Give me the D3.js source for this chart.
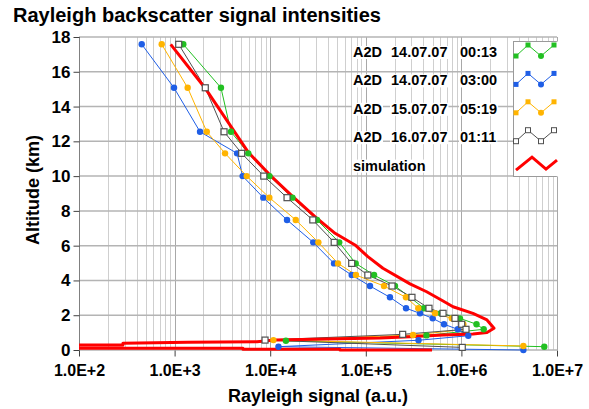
<!DOCTYPE html>
<html>
<head>
<meta charset="utf-8">
<script src="https://cdn.jsdelivr.net/npm/d3@7"></script>
<style>
  body { margin: 0; background: #fff; }
  svg { font-family: "Liberation Sans", Arial, sans-serif; font-weight: bold; }
</style>
</head>
<body>
<svg width="589" height="409"></svg>
<script>
// Altitude levels (km) shared by the A2D profiles
const levels = [17.58, 15.08, 12.55, 11.31, 10.0, 8.76, 7.48, 6.19, 4.98, 4.31, 3.68, 3.03, 2.40, 2.11, 1.82, 1.48, 1.19];

// A2D 14.07.07 00:13 (green)
const greenVals = [1233, 3055, 3890, 5900, 9840, 17100, 30900, 52700, 78400, 122000, 202000, 290000, 406000, 610000, 966000, 1439000, 1711000];
const greenLowAlt = [0.84, 0.53, 0.19];
const greenLowVals = [431000, 14600, 7360000];

// A2D 14.07.07 03:00 (blue)
const blueVals = [453, 986, 1845, 4500, 5150, 8470, 15000, 28200, 46500, 71200, 110600, 179000, 263500, 369000, 501000, 658000, 917000];
const blueLowAlt = [0.82, 0.56, 0.19, 0.0];
const blueLowVals = [1180000, 356000, 12200, 4450000];

// A2D 15.07.07 05:19 (orange)
const orangeVals = [733, 1370, 2170, 3370, 5680, 9800, 18500, 31900, 51200, 78900, 155000, 263000, 354000, 530000, 793000, 1048000, 1117000];
const orangeLowAlt = [0.86, 0.57, 0.23];
const orangeLowVals = [312000, 10800, 4450000];

// A2D 16.07.07 01:11 (black)
const blackVals = [1104, 2094, 3290, 5030, 8570, 15000, 27900, 46700, 71200, 105000, 188000, 304000, 458000, 643000, 857000, 1007000, 1117000];
const blackLowAlt = [0.90, 0.57, 0.15];
const blackLowVals = [243000, 8830, 1021000];

// simulation (red)
const simAlt = [17.58, 15.07, 11.39, 10.06, 8.86, 7.67, 6.71, 6.04, 5.37, 4.70, 3.80, 3.35, 2.82, 2.49, 2.11, 1.73, 1.25, 1.01, 0.92, 0.86, 0.76, 0.69, 0.58, 0.48, 0.44, 0.39, 0.29, 0.29, 0.10, 0.10, 0.10, 0.04, 0.04, 0.0, 0.0];
const simVals = [910, 2080, 5860, 9950, 16900, 29400, 47700, 77100, 105000, 151000, 290000, 433000, 643000, 817000, 1321000, 1852000, 2193000, 1852000, 1321000, 643000, 290000, 141000, 11200, 7280, 1380, 288, 288, 60, 60, 553, 5190, 5190, 53700, 53700, 493000];

const xTicks = [1e2, 1e3, 1e4, 1e5, 1e6, 1e7];
const yTicks = [0, 2, 4, 6, 8, 10, 12, 14, 16, 18];

const legendRows = [
  {parts: ['A2D', '14.07.07', '00:13'], color: '#22c022', mark: 'dot'},
  {parts: ['A2D', '14.07.07', '03:00'], color: '#1f5ee6', mark: 'dot'},
  {parts: ['A2D', '15.07.07', '05:19'], color: '#ffb400', mark: 'dot'},
  {parts: ['A2D', '16.07.07', '01:11'], color: '#505050', mark: 'square'},
  {parts: ['simulation'], color: '#ff0000', mark: 'none'}
];

const zip = (vals, alts) => vals.map((v, i) => ({v: v, a: alts[i]}));
const series = [
  {data: zip([...greenVals, ...greenLowVals], [...levels, ...greenLowAlt]), color: '#22c022', mark: 'dot', width: 1},
  {data: zip([...blueVals, ...blueLowVals], [...levels, ...blueLowAlt]), color: '#1f5ee6', mark: 'dot', width: 1},
  {data: zip([...orangeVals, ...orangeLowVals], [...levels, ...orangeLowAlt]), color: '#ffb400', mark: 'dot', width: 1},
  {data: zip([...blackVals, ...blackLowVals], [...levels, ...blackLowAlt]), color: '#505050', mark: 'square', width: 1},
  {data: zip(simVals, simAlt), color: '#ff0000', mark: 'none', width: 3}
];

const svg = d3.select('svg');
const x = d3.scaleLog().domain([1e2, 1e7]).range([79, 557]);
const y = d3.scaleLinear().domain([0, 18]).range([350, 37]);

svg.append('defs').append('clipPath').attr('id', 'plot')
  .append('rect').attr('x', 79).attr('y', 30).attr('width', 478).attr('height', 325);

// grid
const minor = [];
for (let e = 2; e < 7; e++) for (let m = 2; m < 10; m++) minor.push(m * Math.pow(10, e));
const grid = svg.append('g');
grid.selectAll('.minor').data(minor).enter().append('line')
  .attr('x1', d => Math.round(x(d)) + 0.5).attr('x2', d => Math.round(x(d)) + 0.5)
  .attr('y1', y(18)).attr('y2', y(0))
  .attr('stroke', '#cfcfcf');
grid.selectAll('.major').data(xTicks).enter().append('line')
  .attr('x1', d => Math.round(x(d)) + 0.5).attr('x2', d => Math.round(x(d)) + 0.5)
  .attr('y1', y(18)).attr('y2', y(0))
  .attr('stroke', '#a8a8a8');
grid.selectAll('.hz').data(yTicks).enter().append('line')
  .attr('x1', x(1e2)).attr('x2', x(1e7))
  .attr('y1', d => y(d)).attr('y2', d => y(d))
  .attr('stroke', '#b4b4b4').attr('stroke-width', 1.5);

// axes
const yAxis = svg.append('g').attr('transform', 'translate(79.5,0)')
  .call(d3.axisLeft(y).tickValues(yTicks).tickSize(6).tickPadding(3).tickFormat(d3.format('d')));
yAxis.select('.domain').attr('stroke', '#808080').attr('d', `M0,${y(18)}V${y(0)}`);
yAxis.selectAll('.tick line').attr('stroke', '#404040');
yAxis.selectAll('text').attr('font-size', 17).attr('font-weight', 'bold').attr('fill', '#000')
  .attr('font-family', '"Liberation Sans", Arial, sans-serif');

const xAxis = svg.append('g').attr('transform', 'translate(0,350.5)')
  .call(d3.axisBottom(x).tickValues(xTicks).tickSize(6).tickPadding(8)
    .tickFormat(d => d3.format('.1e')(d).toUpperCase()));
xAxis.select('.domain').remove();
xAxis.selectAll('.tick line').attr('stroke', '#404040');
xAxis.selectAll('text').attr('font-size', 16).attr('font-weight', 'bold').attr('fill', '#000')
  .attr('font-family', '"Liberation Sans", Arial, sans-serif');

// titles
svg.append('text').attr('x', 13).attr('y', 22).attr('font-size', 20).text('Rayleigh backscatter signal intensities');
svg.append('text').attr('x', 318).attr('y', 402).attr('text-anchor', 'middle').attr('font-size', 18)
  .text('Rayleigh signal (a.u.)');
svg.append('text').attr('transform', 'translate(39,190) rotate(-90)').attr('text-anchor', 'middle')
  .attr('font-size', 18).text('Altitude (km)');

// data
const line = d3.line().x(d => x(d.v)).y(d => y(d.a));
const plot = svg.append('g').attr('clip-path', 'url(#plot)');

series.forEach(s => {
  plot.append('path').datum(s.data)
    .attr('d', line).attr('fill', 'none')
    .attr('stroke', s.color).attr('stroke-width', s.width).attr('stroke-linejoin', 'round');
});
series.filter(s => s.mark === 'dot').forEach(s => {
  plot.selectAll(null).data(s.data).enter().append('circle')
    .attr('cx', d => x(d.v)).attr('cy', d => y(d.a)).attr('r', 3.2).attr('fill', s.color);
});
series.filter(s => s.mark === 'square').forEach(s => {
  plot.selectAll(null).data(s.data).enter().append('rect')
    .attr('x', d => x(d.v) - 3).attr('y', d => y(d.a) - 3).attr('width', 6).attr('height', 6)
    .attr('fill', '#fff').attr('stroke', s.color).attr('stroke-width', 1.2);
});

// legend
const legend = svg.append('g');
const colX = [353, 391, 460];
legendRows.forEach((r, i) => {
  const base = 57 + i * 28.4;
  r.parts.forEach((p, j) => {
    const t = legend.append('text').attr('x', colX[j]).attr('y', base).attr('font-size', 14.5).text(p);
    const bb = t.node().getBBox();
    legend.insert('rect', 'text').attr('x', bb.x - 1).attr('y', bb.y + 2)
      .attr('width', bb.width + 2).attr('height', bb.height - 3).attr('fill', '#fff');
  });
});
legend.append('rect').attr('x', 513.5).attr('y', 41.5).attr('width', 44).attr('height', 135)
  .attr('fill', '#fff').attr('stroke', '#9a9a9a');
legend.append('line').attr('x1', 557.5).attr('x2', 557.5).attr('y1', 41.5).attr('y2', 176.5)
  .attr('stroke', '#fff').attr('stroke-width', 1.5);

legendRows.forEach((r, i) => {
  const cy = 51 + i * 28.4;
  const pts = [[516, cy + 5], [528, cy - 6], [541, cy + 5], [554, cy - 6]];
  if (r.mark === 'none') {
    const rp = [[516, cy + 5.5], [532, cy - 7.5], [546, cy + 4.5], [557, cy - 4.5]];
    legend.append('path').attr('d', d3.line()(rp)).attr('fill', 'none')
      .attr('stroke', r.color).attr('stroke-width', 3);
    return;
  }
  legend.append('path').attr('d', d3.line()(pts)).attr('fill', 'none').attr('stroke', r.color);
  pts.forEach((p, k) => {
    if (r.mark === 'square') {
      legend.append('rect').attr('x', p[0] - 2.5).attr('y', p[1] - 2.5).attr('width', 5).attr('height', 5)
        .attr('fill', '#fff').attr('stroke', r.color);
    } else if (k === 2) {
      legend.append('circle').attr('cx', p[0]).attr('cy', p[1]).attr('r', 3).attr('fill', r.color);
    } else {
      legend.append('rect').attr('x', p[0] - 2.5).attr('y', p[1] - 2.5).attr('width', 5).attr('height', 5)
        .attr('fill', r.color);
    }
  });
});
</script>
</body>
</html>
